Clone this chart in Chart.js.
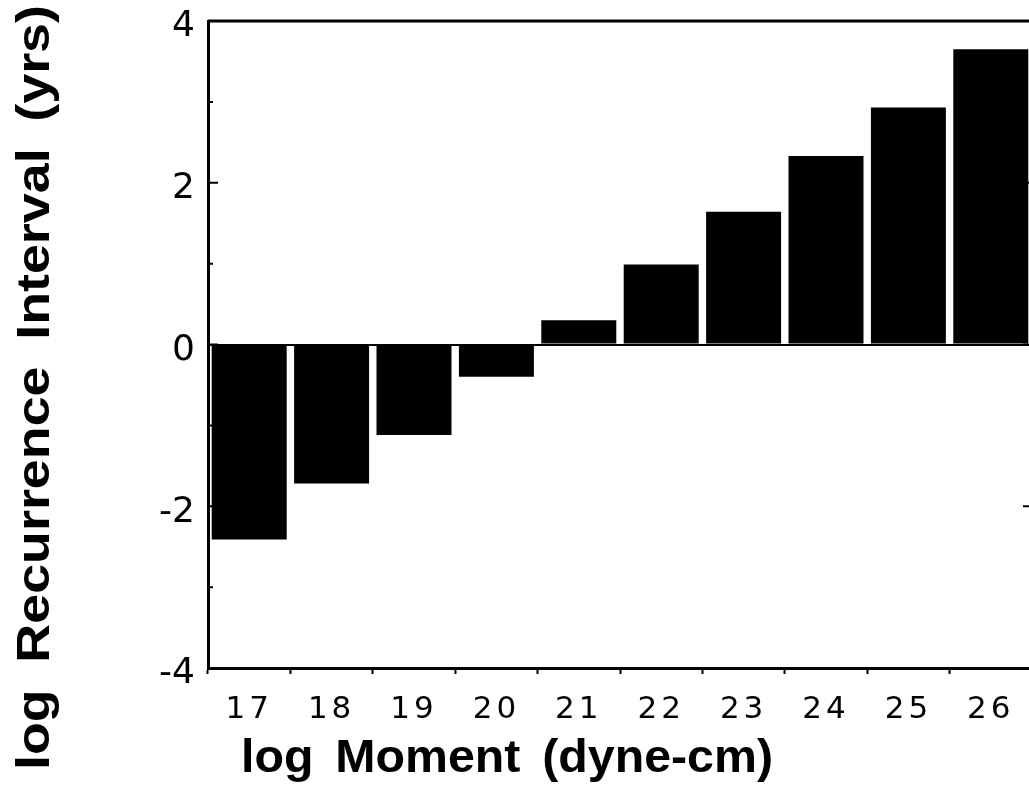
<!DOCTYPE html>
<html>
<head>
<meta charset="utf-8">
<script src="https://cdn.jsdelivr.net/npm/chart.js@4/dist/chart.umd.min.js"></script>
<style>
  html, body { margin: 0; padding: 0; background: #fff; overflow: hidden; width: 1029px; height: 798px; }
  canvas { display: block; }
</style>
</head>
<body>
<canvas id="c" width="1034" height="798"></canvas>
<script>
// ---- data ----
const categories = ['17', '18', '19', '20', '21', '22', '23', '24', '25', '26'];
const recurrence = [-2.41, -1.72, -1.12, -0.40, 0.30, 0.99, 1.64, 2.33, 2.93, 3.65];
const yTickValues = [-4, -2, 0, 2, 4];
const yTickLabels = ['-4', '-2', '0', '2', '4'];
const xTitle = 'log Moment (dyne-cm)';
const yTitle = 'log Recurrence Interval (yrs)';

// ---- plugins ----
const spacingPlugin = {
  id: 'xLabelSpacing',
  beforeDraw(chart) {
    const s = chart.scales.x;
    if (s && !s.__spaced) {
      const orig = s.drawLabels.bind(s);
      s.drawLabels = function (area) {
        const ctx = this.ctx;
        ctx.save();
        if ('letterSpacing' in ctx) ctx.letterSpacing = '4px';
        orig(area);
        ctx.restore();
      };
      s.__spaced = true;
    }
  }
};

const framePlugin = {
  id: 'frame',
  afterDraw(chart) {
    const ctx = chart.ctx;
    const a = chart.chartArea;
    const y = chart.scales.y;
    ctx.save();
    ctx.strokeStyle = '#000';
    ctx.lineCap = 'butt';
    ctx.lineWidth = 3;
    ctx.beginPath();
    ctx.moveTo(a.left, a.top);
    ctx.lineTo(a.right, a.top);
    ctx.moveTo(a.right, a.top);
    ctx.lineTo(a.right, a.bottom);
    ctx.stroke();
    ctx.lineWidth = 2;
    ctx.beginPath();
    y.ticks.forEach(t => {
      const p = y.getPixelForValue(t.value);
      const major = yTickValues.includes(t.value);
      const len = major ? 10 : 5;
      ctx.moveTo(a.left, p);
      ctx.lineTo(a.left + len, p);
      if (major) {
        ctx.moveTo(a.right, p);
        ctx.lineTo(a.right - 9, p);
      }
    });
    ctx.stroke();
    ctx.restore();
  }
};

const titlePlugin = {
  id: 'axisTitles',
  afterDraw(chart) {
    const ctx = chart.ctx;
    ctx.save();
    ctx.fillStyle = '#000';
    ctx.textBaseline = 'alphabetic';
    ctx.textAlign = 'left';
    // x title
    ctx.save();
    ctx.font = 'bold 46px "Liberation Sans", Arial, sans-serif';
    if ('wordSpacing' in ctx) ctx.wordSpacing = '8px';
    ctx.translate(241, 772);
    ctx.scale(1.05, 1);
    ctx.fillText(xTitle, 0, 0);
    ctx.restore();
    // y title
    ctx.save();
    ctx.font = 'bold 46px "Liberation Sans", Arial, sans-serif';
    if ('wordSpacing' in ctx) ctx.wordSpacing = '10px';
    ctx.translate(49, 770);
    ctx.rotate(-Math.PI / 2);
    ctx.scale(1.17, 1);
    ctx.fillText(yTitle, 0, 0);
    ctx.restore();
    ctx.restore();
  }
};

new Chart(document.getElementById('c'), {
  type: 'bar',
  data: {
    labels: categories,
    datasets: [{
      data: recurrence,
      backgroundColor: '#000',
      borderWidth: 0,
      barPercentage: 0.91,
      categoryPercentage: 1.0
    }]
  },
  options: {
    responsive: false,
    animation: false,
    devicePixelRatio: 1,
    layout: { padding: { top: 21, right: 2, left: 0, bottom: 0 } },
    plugins: { legend: { display: false }, tooltip: { enabled: false } },
    scales: {
      x: {
        offset: true,
        afterFit(s) { s.height = 130; s.paddingLeft = 0; s.paddingRight = 0; },
        grid: {
          display: true, offset: true, drawOnChartArea: false, drawTicks: true,
          tickLength: 6, tickWidth: 2, tickColor: '#000'
        },
        border: { display: true, color: '#000', width: 3 },
        ticks: {
          color: '#000', padding: 17, maxRotation: 0,
          font: { family: '"DejaVu Sans"', size: 31 }
        }
      },
      y: {
        min: -4, max: 4,
        afterFit(s) { s.width = 208; s.paddingTop = 0; s.paddingBottom = 0; },
        grid: {
          display: true, drawTicks: false,
          color: ctx => (ctx.tick && ctx.tick.value === 0) ? '#000' : 'rgba(0,0,0,0)',
          lineWidth: 2
        },
        border: { display: true, color: '#000', width: 3 },
        ticks: {
          stepSize: 1, color: '#000', padding: 13, labelOffset: 6,
          font: { family: '"DejaVu Sans"', size: 36 },
          callback: v => { const i = yTickValues.indexOf(v); return i >= 0 ? yTickLabels[i] : ''; }
        }
      }
    }
  },
  plugins: [spacingPlugin, framePlugin, titlePlugin]
});
</script>
</body>
</html>
